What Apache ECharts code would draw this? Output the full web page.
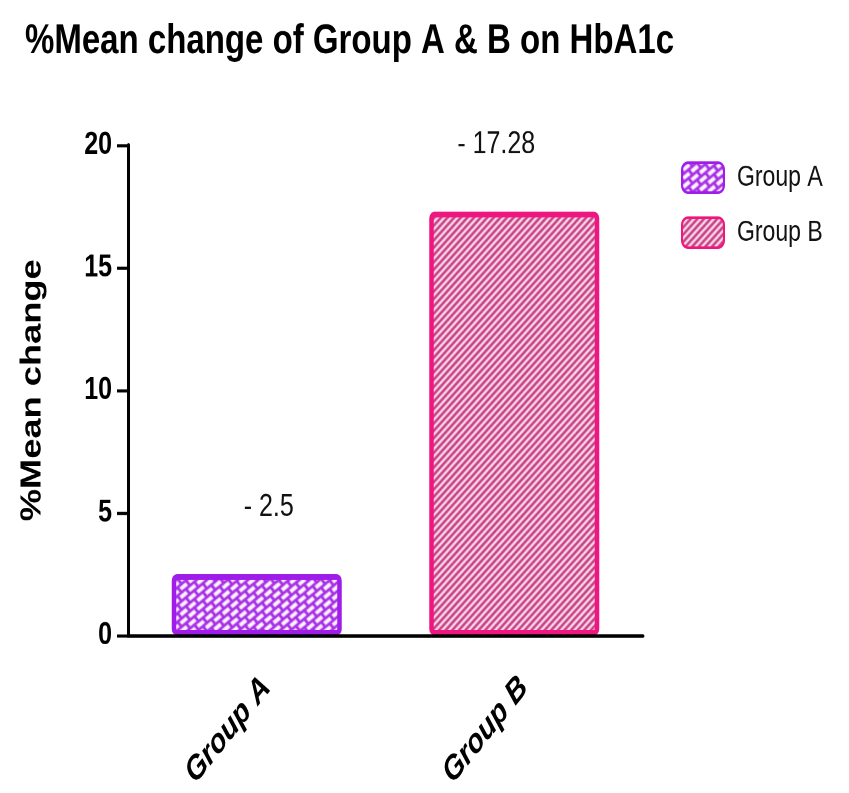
<!DOCTYPE html>
<html>
<head>
<meta charset="utf-8">
<script src="https://cdn.jsdelivr.net/npm/echarts@6/dist/echarts.min.js"></script>
<style>
  html, body { margin: 0; padding: 0; background: #fff; width: 849px; height: 793px; }
  /* The figure is drawn at a shorter height and stretched vertically,
     which gives the tall, condensed lettering of the printed figure. */
  #chart { width: 849px; height: 634px; transform-origin: 0 0; transform: scaleY(1.2508); }
</style>
</head>
<body>
<div id="chart"></div>
<script>
// Data
const categories = ['Group A', 'Group B'];
const groupA = [2.5, null];
const groupB = [null, 17.28];
const yTicks = [0, 5, 10, 15, 20];

const SANS = '"Liberation Sans", Arial, sans-serif';
const STRETCH = 1.2508;

const PURPLE = '#a01ce8';
const PINK = '#f0167f';

// Staggered diagonal bricks for Group A (drawn pre-compensated for the vertical stretch)
function brickPattern() {
  const c = document.createElement('canvas');
  c.width = 900; c.height = 700;
  const g = c.getContext('2d');
  g.fillStyle = '#a72ee6';
  g.fillRect(0, 0, c.width, c.height);
  g.scale(1, 1 / STRETCH);
  g.translate(0, c.height * STRETCH);
  g.rotate(-40 * Math.PI / 180);
  g.fillStyle = '#fdf3ff';
  g.beginPath();
  const rowGap = 6.6, len = 8.2, thick = 3.9, period = 11;
  let r = 0;
  for (let v = -1300; v < 1300; v += rowGap, r++) {
    const off = (r % 2) * period / 2;
    for (let u = -1300 + off; u < 1500; u += period) {
      g.rect(u, v, len, thick);
    }
  }
  g.fill();
  return c;
}

// Diagonal stripes for Group B
function stripePattern() {
  const c = document.createElement('canvas');
  c.width = 900; c.height = 700;
  const g = c.getContext('2d');
  g.fillStyle = '#ffe6f2';
  g.fillRect(0, 0, c.width, c.height);
  g.scale(1, 1 / STRETCH);
  const h = c.height * STRETCH;
  g.strokeStyle = '#c63c82';
  g.lineWidth = 2.6;
  const dx = h / Math.tan(48 * Math.PI / 180);
  for (let x = -dx - 10; x < c.width + 10; x += 6.6) {
    g.beginPath();
    g.moveTo(x, h);
    g.lineTo(x + dx, 0);
    g.stroke();
  }
  return c;
}

const chart = echarts.init(document.getElementById('chart'), null, { renderer: 'canvas', devicePixelRatio: 2 });

const labelBase = {
  show: true,
  position: 'top',
  distance: 41,
  fontFamily: SANS,
  fontSize: 25,
  color: '#111',
  formatter: p => '- ' + p.value
};

chart.setOption({
  animation: false,
  backgroundColor: '#fff',
  title: {
    text: '%Mean change of Group A & B on HbA1c',
    left: 20,
    top: 12,
    textStyle: { fontFamily: SANS, fontWeight: 'bold', fontSize: 33, color: '#000' }
  },
  legend: {
    orient: 'vertical',
    left: 676,
    top: 124,
    itemWidth: 42,
    itemHeight: 24,
    itemGap: 18,
    icon: 'roundRect',
    textStyle: { fontFamily: SANS, fontSize: 23, color: '#111', padding: [0, 0, 0, 8] },
    data: ['Group A', 'Group B']
  },
  grid: { left: 128, right: 206, top: 116, bottom: 126, containLabel: false, outerBoundsMode: 'none' },
  xAxis: {
    type: 'category',
    data: categories,
    z: 5,
    axisLine: { lineStyle: { color: '#000', width: 2.8 } },
    axisTick: { alignWithLabel: true, length: 8, lineStyle: { color: '#000', width: 2 } },
    axisLabel: {
      rotate: 45,
      margin: 28,
      verticalAlign: 'top',
      fontFamily: SANS,
      fontWeight: 'bold',
      fontStyle: 'italic',
      fontSize: 27,
      color: '#000'
    }
  },
  yAxis: {
    type: 'value',
    min: yTicks[0],
    max: yTicks[yTicks.length - 1],
    interval: yTicks[1] - yTicks[0],
    name: '%Mean change',
    nameLocation: 'middle',
    nameGap: 81,
    nameTextStyle: { fontFamily: SANS, fontWeight: 'bold', fontSize: 29, color: '#000' },
    splitLine: { show: false },
    axisLine: { show: true, lineStyle: { color: '#000', width: 3 } },
    axisTick: { show: true, length: 11, lineStyle: { color: '#000', width: 2.5 } },
    axisLabel: {
      margin: 16,
      fontFamily: SANS,
      fontWeight: 'bold',
      fontSize: 25,
      color: '#000'
    }
  },
  series: [
    {
      name: 'Group A',
      type: 'bar',
      data: groupA,
      barWidth: 170,
      barGap: '-100%',
      itemStyle: {
        color: { image: brickPattern(), repeat: 'repeat' },
        borderColor: PURPLE,
        borderWidth: 4.5,
        borderRadius: 3
      },
      label: Object.assign({}, labelBase, { offset: [12, 0] })
    },
    {
      name: 'Group B',
      type: 'bar',
      data: groupB,
      barWidth: 170,
      barGap: '-100%',
      itemStyle: {
        color: { image: stripePattern(), repeat: 'repeat' },
        borderColor: PINK,
        borderWidth: 4.5,
        borderRadius: 3
      },
      label: Object.assign({}, labelBase, { offset: [-18, 0] })
    }
  ]
});
</script>
</body>
</html>
